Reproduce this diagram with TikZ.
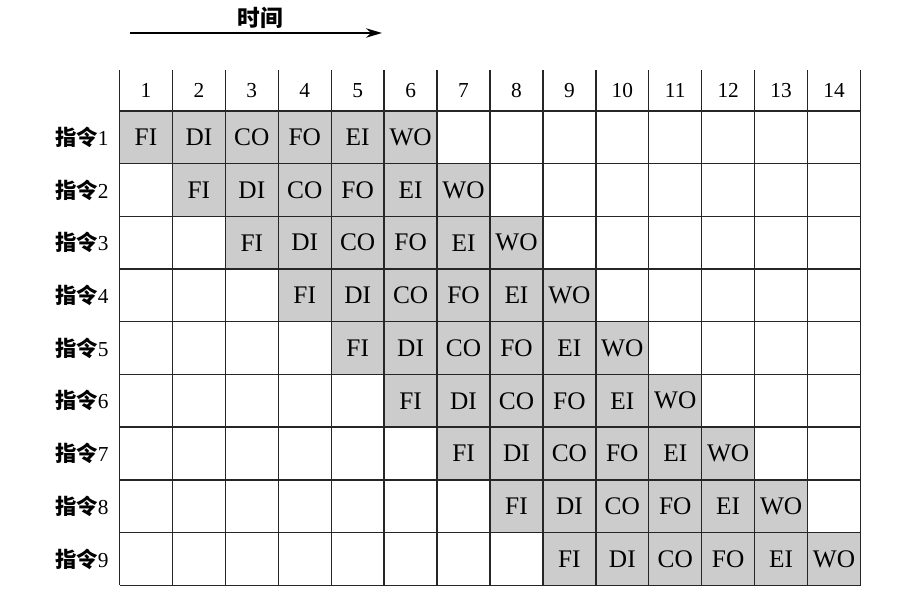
\documentclass[tikz,border=0pt]{standalone}
\usepackage{fontspec}
\setmainfont{Liberation Serif}
\newfontfamily\cjk{Noto Sans CJK SC}
\usetikzlibrary{positioning,arrows.meta}

\begin{document}
\begin{tikzpicture}[x=39.7pt,y=-39.525pt,
   stage/.style={font=\fontsize{19}{21}\selectfont,inner sep=0pt},
   tick/.style={font=\fontsize{16}{18}\selectfont,inner sep=0pt},
   instr/.style={font=\fontsize{16}{18}\selectfont,inner sep=0pt,anchor=east},
   gridline/.style={line width=1pt,black!85}]
   \useasboundingbox (-2.258,-2.106) rectangle (14.992,9.374);
   % shaded pipeline stages
   \foreach \i in {1,...,9}
     \foreach \s [count=\k from 0] in {FI,DI,CO,FO,EI,WO} {
       \pgfmathtruncatemacro\c{\i+\k}
       \fill[black!20] (\c-1,\i-1) rectangle (\c,\i);
       \node[stage] (s\i-\c) at (\c-0.5,\i-0.5) {\s};
     }
   % grid
   \foreach \c in {0,...,14}
     \draw[gridline] (\c,-0.778) -- (\c,9);
   \foreach \r in {0,...,9}
     \draw[gridline] (0,\r) -- (14,\r);
   % time steps and instructions
   \foreach \c in {1,...,14}
     \node[tick] (t\c) at (\c-0.5,-0.39) {\c};
   \foreach \i in {1,...,9}
     \node[instr] (i\i) at (-0.2,\i-0.5) {{\cjk\bfseries 指令}\i};
   % time arrow
   \coordinate (tstart) at (0.2,-1.48);
   \coordinate (tend) at (4.96,-1.48);
   \draw[line width=1.8pt,-{Stealth[length=12pt,width=7pt]}] (tstart) -- (tend);
   \node[font=\cjk\bfseries\fontsize{17}{19}\selectfont] (time) at (2.655,-1.77) {时间};
\end{tikzpicture}
\end{document}
